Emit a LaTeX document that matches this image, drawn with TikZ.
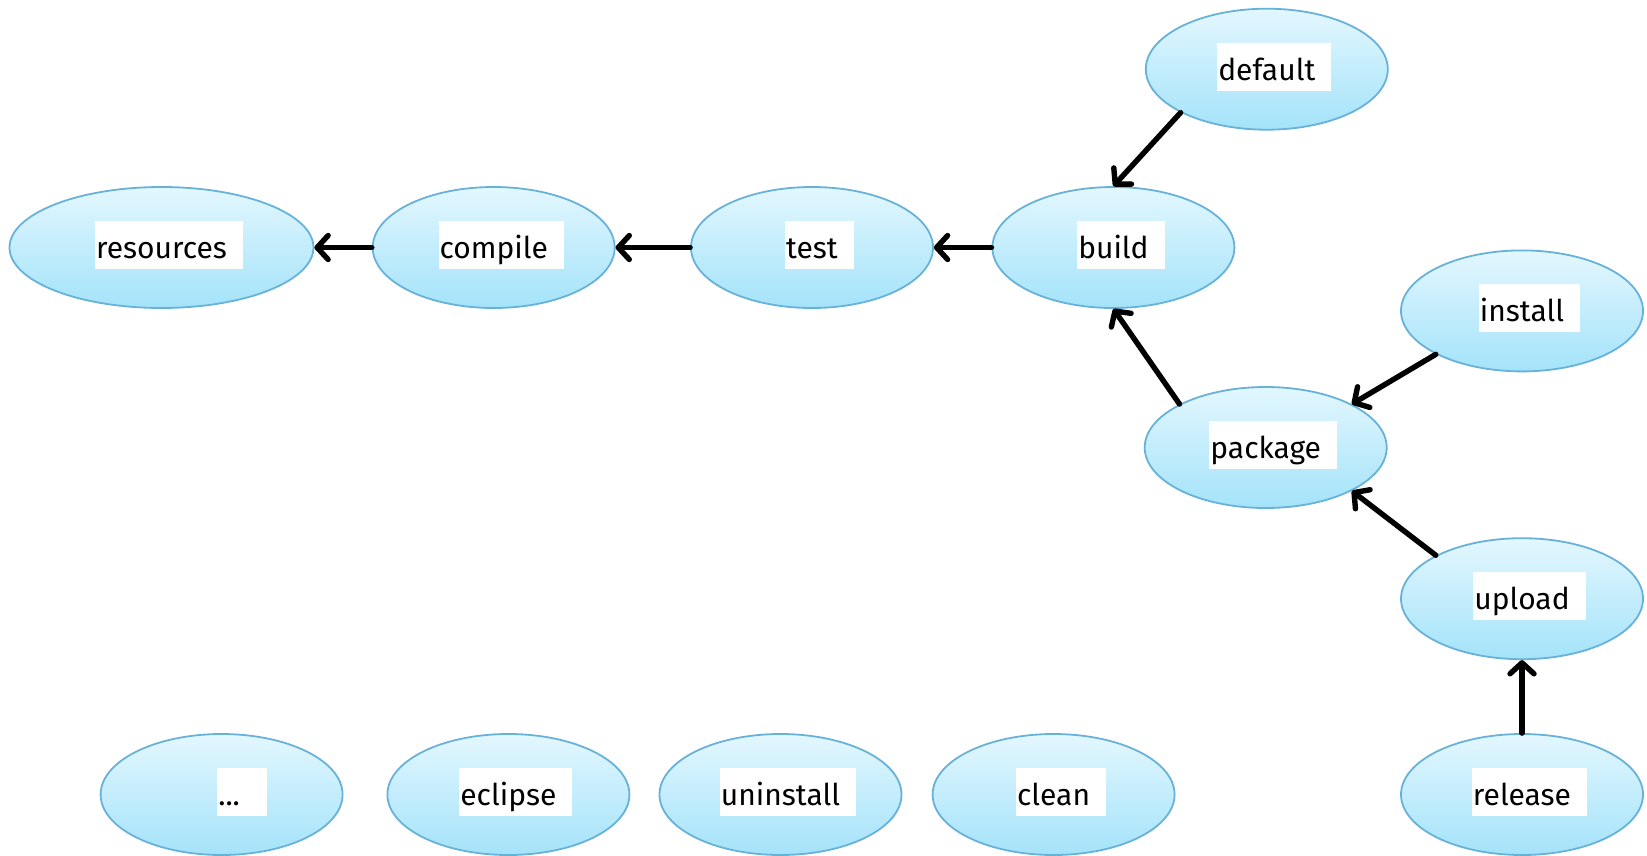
\documentclass[tikz,border=0pt]{standalone}
\usepackage{fontspec}
\setmainfont{Fira Sans}
\usetikzlibrary{arrows.meta,shapes.geometric}
\definecolor{topc}{RGB}{227,247,254}
\definecolor{botc}{RGB}{164,227,250}
\definecolor{bordc}{RGB}{104,178,218}
\begin{document}
\begin{tikzpicture}[x=1pt,y=-1pt,
  task/.style={ellipse, draw=bordc, line width=1.8pt, top color=topc, bottom color=botc,
    minimum width=242pt, minimum height=121pt, inner sep=0pt},
  lbl/.style={fill=white, inner xsep=1pt, inner ysep=0pt, text height=37.3pt, text depth=10.7pt,
    font=\fontsize{30}{30}\selectfont, anchor=base, xshift=7.5pt, yshift=-10.8pt},
  arr/.style={line width=5.4pt, line cap=round, line join=round,
    -{Straight Barb[length=11pt,width=24pt,line cap=round,line join=round]}}
]
\useasboundingbox (0,0) rectangle (1647,855);
% ellipses
\node[task, minimum width=304pt] (resources) at (161.5,247.5) {};
\node[task] (compile)   at (493.7,247.5) {};
\node[task] (test)      at (812,247.5) {};
\node[task] (build)     at (1113.4,247.5) {};
\node[task] (default)   at (1266.8,69.2) {};
\node[task] (install)   at (1522,310.9) {};
\node[task] (package)   at (1265.7,447.5) {};
\node[task] (upload)    at (1522,598.7) {};
\node[task] (release)   at (1522,794.5) {};
\node[task] (more)      at (221.6,794.5) {};
\node[task] (eclipse)   at (508.4,794.5) {};
\node[task] (uninstall) at (780.5,794.5) {};
\node[task] (clean)     at (1053.6,794.5) {};
% labels
\node[lbl] (resources-l) at (resources.center) {resources\rule{15pt}{0pt}};
\node[lbl] (compile-l)   at (compile.center)   {compile\rule{15pt}{0pt}};
\node[lbl] (test-l)      at (test.center)      {test\rule{15pt}{0pt}};
\node[lbl] (build-l)     at (build.center)     {build\rule{15pt}{0pt}};
\node[lbl] (default-l)   at (default.center)   {default\rule{15pt}{0pt}};
\node[lbl] (install-l)   at (install.center)   {install\rule{15pt}{0pt}};
\node[lbl] (package-l)   at (package.center)   {package\rule{15pt}{0pt}};
\node[lbl] (upload-l)    at (upload.center)    {upload\rule{15pt}{0pt}};
\node[lbl] (release-l)   at (release.center)   {release\rule{15pt}{0pt}};
\node[lbl, xshift=13pt] (more-l) at (more.center) {...\rule{26pt}{0pt}};
\node[lbl] (eclipse-l)   at (eclipse.center)   {eclipse\rule{15pt}{0pt}};
\node[lbl] (uninstall-l) at (uninstall.center) {uninstall\rule{15pt}{0pt}};
\node[lbl] (clean-l)     at (clean.center)     {clean\rule{15pt}{0pt}};
% arrows
\draw[arr] (compile.west) -- (resources.east);
\draw[arr] (test.west) -- (compile.east);
\draw[arr] (build.west) -- (test.east);
\draw[arr] (default.south west) -- (build.north);
\draw[arr] (package.north west) -- (build.south);
\draw[arr] (install.south west) -- (package.north east);
\draw[arr] (upload.north west) -- (package.south east);
\draw[arr] (release.north) -- (upload.south);
\end{tikzpicture}
\end{document}
